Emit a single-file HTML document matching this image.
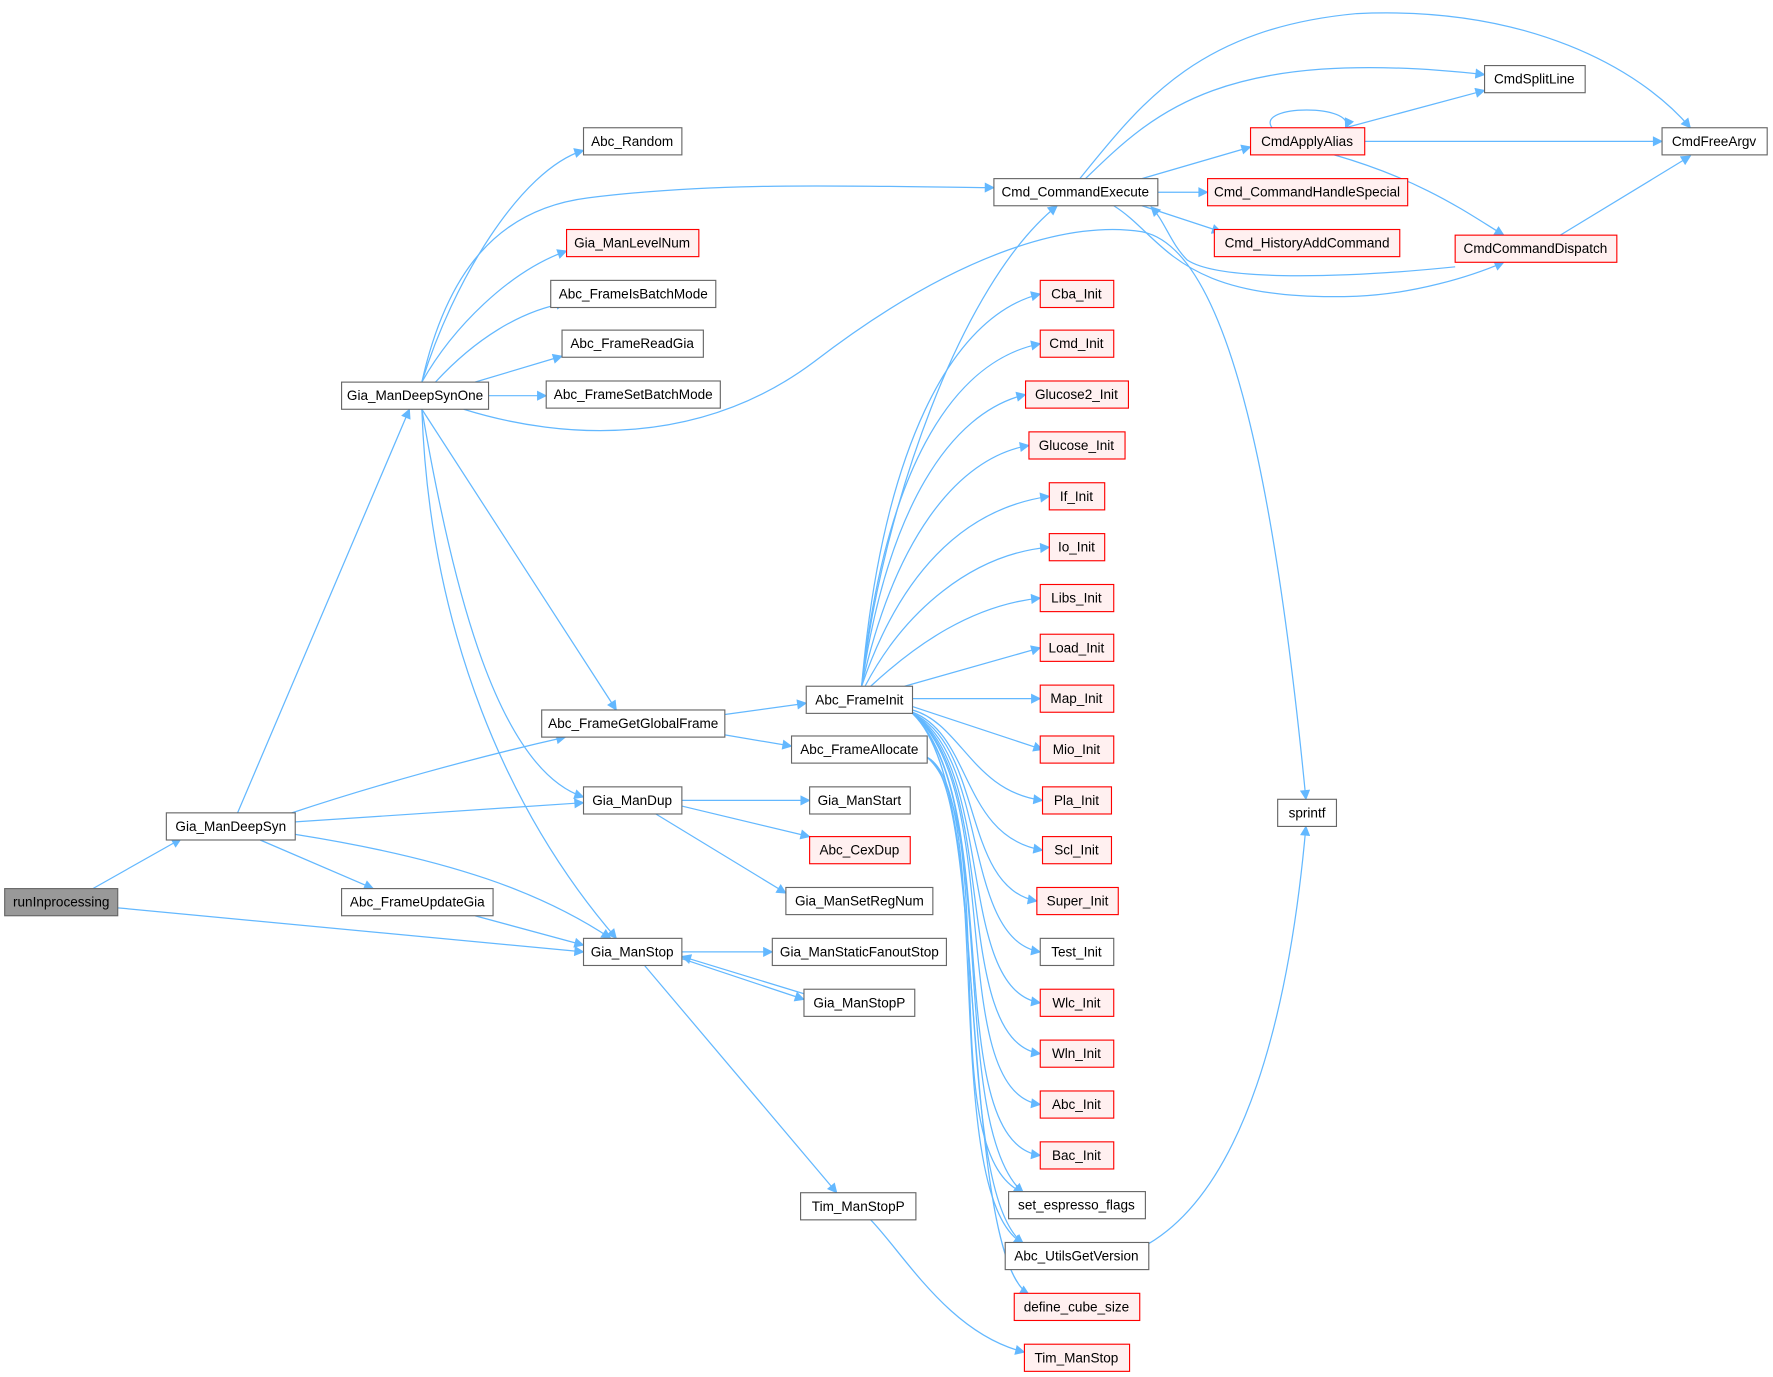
<!DOCTYPE html>
<html><head><meta charset="utf-8"><style>
html,body{margin:0;padding:0;background:#fff}
svg{display:block}
text{font-family:"Liberation Sans",Arial,sans-serif;font-size:12px;text-anchor:middle;dominant-baseline:central;fill:#000}
.e{fill:none;stroke:#63b8ff;stroke-width:1.1}
.n{fill:#fff;stroke:#666;stroke-width:1}
.r{fill:#fff0f0;stroke:#ff0000;stroke-width:1}
.g{fill:#999;stroke:#666;stroke-width:1}
</style></head><body>
<svg width="1773" height="1377" viewBox="0 0 1568 1218" xmlns="http://www.w3.org/2000/svg">
<defs><marker id="a" viewBox="0 0 10 10" refX="9" refY="5" markerWidth="12" markerHeight="9" markerUnits="userSpaceOnUse" orient="auto"><path d="M0,0 L10,5 L0,10 z" fill="#63b8ff"/></marker></defs>
<g marker-end="url(#a)">
<path class="e" d="M82,786 L160,742"/>
<path class="e" d="M104,803 L516,842"/>
<path class="e" d="M210,719 L362,362"/>
<path class="e" d="M258,719 C330,695 420,670 500,652"/>
<path class="e" d="M261,727 L516,710"/>
<path class="e" d="M230,743 L330,786"/>
<path class="e" d="M261,738 C400,760 480,790 540,830"/>
<path class="e" d="M420,810 L516,836"/>
<path class="e" d="M373,338 C400,250 460,150 516,133"/>
<path class="e" d="M373,338 C400,290 450,240 501,222"/>
<path class="e" d="M385,338 C420,300 460,275 500,268"/>
<path class="e" d="M420,338 L497,315"/>
<path class="e" d="M432,350 L483,350"/>
<path class="e" d="M373,338 C395,240 440,185 520,175 C640,160 760,165 879,166"/>
<path class="e" d="M410,362 C500,390 620,395 720,320 C850,220 950,195 1010,205 C1090,220 1130,450 1155,707"/>
<path class="e" d="M373,362 L545,628"/>
<path class="e" d="M373,362 C400,520 440,680 516,705"/>
<path class="e" d="M373,362 C380,560 450,720 545,830"/>
<path class="e" d="M641,632 L713,622"/>
<path class="e" d="M641,650 L700,660"/>
<path class="e" d="M603,708 L716,708"/>
<path class="e" d="M603,713 L716,740"/>
<path class="e" d="M580,720 L695,790"/>
<path class="e" d="M603,842 L683,842"/>
<path class="e" d="M603,848 L711,884"/>
<path class="e" d="M711,879 L603,846"/>
<path class="e" d="M570,854 L740,1055"/>
<path class="e" d="M770,1079 C800,1110 840,1180 906,1196"/>
<path class="e" d="M762,607 C780,450 850,250 935,182"/>
<path class="e" d="M762,607 C780,400 840,280 920,260"/>
<path class="e" d="M762,607 C782,420 840,320 920,304"/>
<path class="e" d="M762,607 C785,450 840,365 907,349"/>
<path class="e" d="M762,607 C790,480 845,405 910,394"/>
<path class="e" d="M762,607 C795,510 850,450 928,439"/>
<path class="e" d="M765,607 C800,540 860,490 928,484"/>
<path class="e" d="M770,607 C810,570 860,535 920,529"/>
<path class="e" d="M800,607 L920,573"/>
<path class="e" d="M807,618 L920,618"/>
<path class="e" d="M807,625 L922,663"/>
<path class="e" d="M807,628 C850,640 860,700 922,708"/>
<path class="e" d="M807,630 C860,650 850,740 922,752"/>
<path class="e" d="M807,631 C870,660 850,785 917,797"/>
<path class="e" d="M807,631 C875,670 850,830 920,842"/>
<path class="e" d="M807,631 C880,680 845,875 920,887"/>
<path class="e" d="M807,631 C885,690 840,920 920,932"/>
<path class="e" d="M807,631 C890,700 835,965 920,977"/>
<path class="e" d="M807,631 C890,710 830,1010 920,1022"/>
<path class="e" d="M807,631 C895,720 820,1020 905,1055"/>
<path class="e" d="M820,670 C880,700 830,1060 905,1100"/>
<path class="e" d="M820,670 C870,690 850,1110 910,1145"/>
<path class="e" d="M807,631 C880,700 840,1050 905,1100"/>
<path class="e" d="M820,670 C880,720 840,1000 905,1055"/>
<path class="e" d="M1016,1100 C1100,1050 1140,900 1155,731"/>
<path class="e" d="M960,158 C1020,100 1080,40 1313,66"/>
<path class="e" d="M955,158 C1010,90 1060,25 1200,12 C1350,5 1450,60 1495,113"/>
<path class="e" d="M1010,158 L1106,130"/>
<path class="e" d="M1024,170 L1068,170"/>
<path class="e" d="M985,182 C1030,210 1040,268 1200,262 C1250,260 1300,245 1330,232"/>
<path class="e" d="M1010,182 L1080,205"/>
<path class="e" d="M1287,236 C1200,245 1080,250 1050,230 C1035,215 1030,195 1018,183"/>
<path class="e" d="M1190,113 L1313,80"/>
<path class="e" d="M1207,125 L1470,125"/>
<path class="e" d="M1180,137 C1260,160 1300,190 1330,208"/>
<path class="e" d="M1125,113 C1110,92 1200,92 1190,113"/>
<path class="e" d="M1380,208 L1495,138"/>
</g>
<g>
<rect class="g" x="4" y="786" width="100" height="24"/><text x="54" y="798">runInprocessing</text>
<rect class="n" x="147" y="719" width="114" height="24"/><text x="204" y="731">Gia_ManDeepSyn</text>
<rect class="n" x="302" y="338" width="130" height="24"/><text x="367" y="350">Gia_ManDeepSynOne</text>
<rect class="n" x="302" y="786" width="134" height="24"/><text x="369" y="798">Abc_FrameUpdateGia</text>
<rect class="n" x="516" y="113" width="87" height="24"/><text x="559" y="125">Abc_Random</text>
<rect class="r" x="501" y="203" width="117" height="24"/><text x="559" y="215">Gia_ManLevelNum</text>
<rect class="n" x="487" y="248" width="146" height="24"/><text x="560" y="260">Abc_FrameIsBatchMode</text>
<rect class="n" x="497" y="292" width="125" height="24"/><text x="559" y="304">Abc_FrameReadGia</text>
<rect class="n" x="483" y="337" width="154" height="24"/><text x="560" y="349">Abc_FrameSetBatchMode</text>
<rect class="n" x="479" y="628" width="162" height="24"/><text x="560" y="640">Abc_FrameGetGlobalFrame</text>
<rect class="n" x="516" y="696" width="87" height="24"/><text x="559" y="708">Gia_ManDup</text>
<rect class="n" x="516" y="830" width="87" height="24"/><text x="559" y="842">Gia_ManStop</text>
<rect class="n" x="879" y="158" width="145" height="24"/><text x="951" y="170">Cmd_CommandExecute</text>
<rect class="n" x="713" y="607" width="94" height="24"/><text x="760" y="619">Abc_FrameInit</text>
<rect class="n" x="700" y="651" width="120" height="24"/><text x="760" y="663">Abc_FrameAllocate</text>
<rect class="n" x="716" y="696" width="89" height="24"/><text x="760" y="708">Gia_ManStart</text>
<rect class="r" x="716" y="740" width="89" height="24"/><text x="760" y="752">Abc_CexDup</text>
<rect class="n" x="695" y="785" width="130" height="24"/><text x="760" y="797">Gia_ManSetRegNum</text>
<rect class="n" x="683" y="830" width="154" height="24"/><text x="760" y="842">Gia_ManStaticFanoutStop</text>
<rect class="n" x="711" y="875" width="98" height="24"/><text x="760" y="887">Gia_ManStopP</text>
<rect class="n" x="708" y="1055" width="102" height="24"/><text x="759" y="1067">Tim_ManStopP</text>
<rect class="r" x="920" y="248" width="65" height="24"/><text x="952" y="260">Cba_Init</text>
<rect class="r" x="920" y="292" width="65" height="24"/><text x="952" y="304">Cmd_Init</text>
<rect class="r" x="907" y="337" width="91" height="24"/><text x="952" y="349">Glucose2_Init</text>
<rect class="r" x="910" y="382" width="85" height="24"/><text x="952" y="394">Glucose_Init</text>
<rect class="r" x="928" y="427" width="49" height="24"/><text x="952" y="439">If_Init</text>
<rect class="r" x="928" y="472" width="49" height="24"/><text x="952" y="484">Io_Init</text>
<rect class="r" x="920" y="517" width="65" height="24"/><text x="952" y="529">Libs_Init</text>
<rect class="r" x="920" y="561" width="65" height="24"/><text x="952" y="573">Load_Init</text>
<rect class="r" x="920" y="606" width="65" height="24"/><text x="952" y="618">Map_Init</text>
<rect class="r" x="920" y="651" width="65" height="24"/><text x="952" y="663">Mio_Init</text>
<rect class="r" x="922" y="696" width="61" height="24"/><text x="952" y="708">Pla_Init</text>
<rect class="r" x="922" y="740" width="61" height="24"/><text x="952" y="752">Scl_Init</text>
<rect class="r" x="917" y="785" width="72" height="24"/><text x="953" y="797">Super_Init</text>
<rect class="n" x="920" y="830" width="65" height="24"/><text x="952" y="842">Test_Init</text>
<rect class="r" x="920" y="875" width="65" height="24"/><text x="952" y="887">Wlc_Init</text>
<rect class="r" x="920" y="920" width="65" height="24"/><text x="952" y="932">Wln_Init</text>
<rect class="r" x="920" y="965" width="65" height="24"/><text x="952" y="977">Abc_Init</text>
<rect class="r" x="920" y="1010" width="65" height="24"/><text x="952" y="1022">Bac_Init</text>
<rect class="n" x="892" y="1054" width="121" height="24"/><text x="952" y="1066">set_espresso_flags</text>
<rect class="n" x="889" y="1099" width="127" height="24"/><text x="952" y="1111">Abc_UtilsGetVersion</text>
<rect class="r" x="897" y="1144" width="111" height="24"/><text x="952" y="1156">define_cube_size</text>
<rect class="r" x="906" y="1189" width="93" height="24"/><text x="952" y="1201">Tim_ManStop</text>
<rect class="r" x="1106" y="113" width="101" height="24"/><text x="1156" y="125">CmdApplyAlias</text>
<rect class="r" x="1068" y="158" width="177" height="24"/><text x="1156" y="170">Cmd_CommandHandleSpecial</text>
<rect class="r" x="1074" y="203" width="164" height="24"/><text x="1156" y="215">Cmd_HistoryAddCommand</text>
<rect class="r" x="1287" y="208" width="143" height="24"/><text x="1358" y="220">CmdCommandDispatch</text>
<rect class="n" x="1313" y="58" width="89" height="24"/><text x="1357" y="70">CmdSplitLine</text>
<rect class="n" x="1470" y="113" width="93" height="24"/><text x="1516" y="125">CmdFreeArgv</text>
<rect class="n" x="1130" y="707" width="52" height="24"/><text x="1156" y="719">sprintf</text>
</g>
</svg>
</body></html>
